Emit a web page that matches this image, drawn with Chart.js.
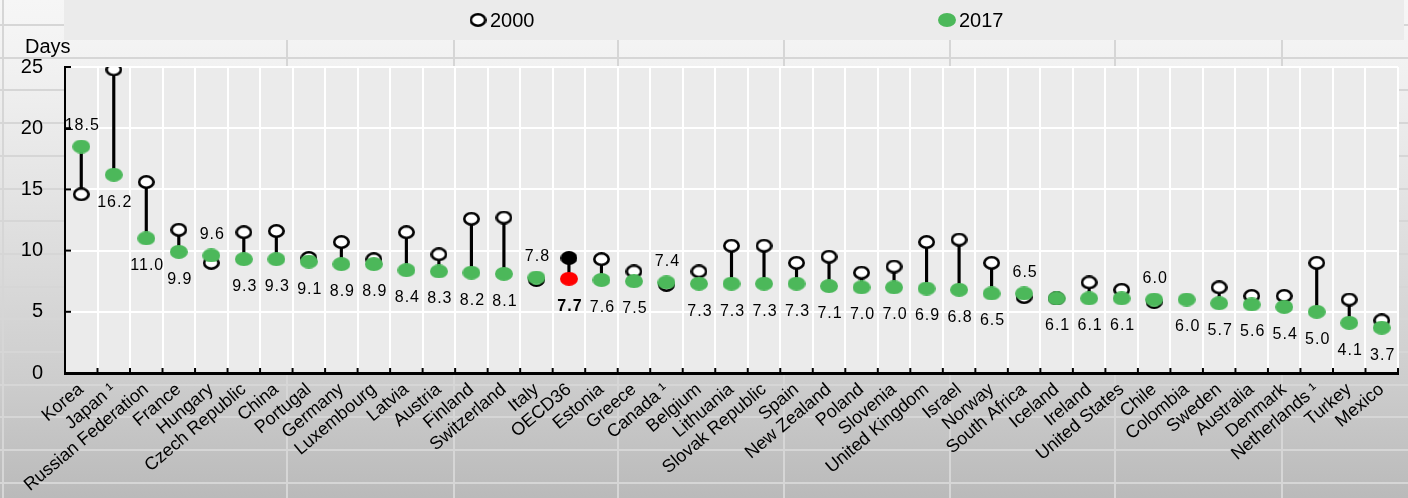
<!DOCTYPE html>
<html><head><meta charset="utf-8">
<script src="https://cdn.jsdelivr.net/npm/chart.js@4/dist/chart.umd.min.js"></script>
<style>html,body{margin:0;padding:0;background:#fff}canvas{display:block}</style>
</head><body>
<canvas id="c" width="1408" height="498" style="width:1408px;height:498px"></canvas>
<script>
const categories = ["Korea","Japan \u00b9","Russian Federation","France","Hungary","Czech Republic","China","Portugal","Germany","Luxembourg","Latvia","Austria","Finland","Switzerland","Italy","OECD36","Estonia","Greece","Canada \u00b9","Belgium","Lithuania","Slovak Republic","Spain","New Zealand","Poland","Slovenia","United Kingdom","Israel","Norway","South Africa","Iceland","Ireland","United States","Chile","Colombia","Sweden","Australia","Denmark","Netherlands \u00b9","Turkey","Mexico"];
const values2017 = [18.5,16.2,11.0,9.9,9.6,9.3,9.3,9.1,8.9,8.9,8.4,8.3,8.2,8.1,7.8,7.7,7.6,7.5,7.4,7.3,7.3,7.3,7.3,7.1,7.0,7.0,6.9,6.8,6.5,6.5,6.1,6.1,6.1,6.0,6.0,5.7,5.6,5.4,5.0,4.1,3.7];
const values2000 = [14.6,24.8,15.6,11.7,9.0,11.5,11.6,9.4,10.7,9.3,11.5,9.7,12.6,12.7,7.6,9.4,9.3,8.3,7.2,8.3,10.4,10.4,9.0,9.5,8.2,8.7,10.7,10.9,9.0,6.2,6.1,7.4,6.8,5.8,null,7.0,6.3,6.3,9.0,6.0,4.3];
const yTicks = [0,5,10,15,20,25];
const seriesNames = ["2000","2017"];
const highlight = "OECD36";
const yTitle = "Days";

const FONT = '"Liberation Sans", Arial, sans-serif';
function ell(w,h,fill,stroke,lw){
  const c=document.createElement('canvas'); c.width=w; c.height=h;
  const x=c.getContext('2d'); x.beginPath();
  const l=lw||0;
  x.ellipse(w/2,h/2,w/2-l/2,h/2-l/2,0,0,Math.PI*2);
  x.fillStyle=fill; x.fill();
  if(l){x.lineWidth=l; x.strokeStyle=stroke; x.stroke();}
  return c;
}
const imgGreen = ell(18,14,'#4cb85a');
const imgRed = ell(18,14,'#ff0000');
const imgWhite = ell(17,14,'#ffffff','#000000',2.6);
const imgBlack = ell(17,14,'#000000','#000000',2.6);
const rangeData = categories.map((c,i)=> values2000[i]==null ? null : [Math.min(values2000[i],values2017[i]), Math.max(values2000[i],values2017[i])]);

const bgPlugin = {
  id:'bg',
  beforeDraw(chart){
    const ctx=chart.ctx, W=chart.width, H=chart.height, a=chart.chartArea;
    ctx.save();
    const g=ctx.createLinearGradient(0,0,0,H);
    g.addColorStop(0,'#f6f6f6'); g.addColorStop(0.12,'#f2f2f2'); g.addColorStop(0.4,'#e3e3e3');
    g.addColorStop(0.75,'#cecece'); g.addColorStop(1,'#bababa');
    ctx.fillStyle=g; ctx.fillRect(0,0,W,H);
    ctx.strokeStyle='#d6d6d6'; ctx.lineWidth=2;
    for(let y=25;y<H;y+=32.7){ctx.beginPath();ctx.moveTo(0,Math.round(y));ctx.lineTo(W,Math.round(y));ctx.stroke();}
    [3,287,454,618,784,950,1115,1282].forEach(x=>{ctx.beginPath();ctx.moveTo(x,0);ctx.lineTo(x,H);ctx.stroke();});
    ctx.fillStyle='#ebebeb'; ctx.fillRect(a.left-1,0,W-a.left-3,40);
    ctx.fillStyle='#ebebeb'; ctx.fillRect(a.left,a.top,a.right-a.left,a.bottom-a.top);
    ctx.restore();
  },
  afterDatasetsDraw(chart){
    const ctx=chart.ctx;
    const meta=chart.getDatasetMeta(0);
    ctx.save();
    ctx.textAlign='center'; ctx.textBaseline='middle'; ctx.fillStyle='#000';
    try{ctx.letterSpacing='1px';}catch(e){}
    meta.data.forEach((pt,i)=>{
      const v=values2017[i]; const o=values2000[i];
      const above = o!=null && o<v;
      ctx.font=(categories[i]===highlight?'bold ':'')+'16px '+FONT;
      ctx.fillText(v.toFixed(1), pt.x+1, pt.y+(above?-21:27.5));
    });
    ctx.restore();
  },
  afterDraw(chart){
    const ctx=chart.ctx, a=chart.chartArea, xs=chart.scales.x, ys=chart.scales.y;
    ctx.save();
    ctx.strokeStyle='#000'; ctx.lineWidth=2;
    const n=categories.length;
    for(let i=1;i<=n;i++){
      const x = i<n ? (xs.getPixelForValue(i-1)+xs.getPixelForValue(i))/2 : a.right;
      ctx.beginPath(); ctx.moveTo(x,a.bottom); ctx.lineTo(x,a.bottom-5); ctx.stroke();
    }
    yTicks.forEach(v=>{const y=ys.getPixelForValue(v); ctx.beginPath(); ctx.moveTo(a.left,y); ctx.lineTo(a.left+6,y); ctx.stroke();});
    ctx.fillStyle='#000'; ctx.textBaseline='middle'; ctx.textAlign='left';
    ctx.font='20px '+FONT;
    ctx.drawImage(imgWhite,478-8.5,20-7);
    ctx.fillText(seriesNames[0],490,21);
    ctx.drawImage(imgGreen,947-9,20-7);
    ctx.fillText(seriesNames[1],959,21);
    ctx.font='20px '+FONT;
    ctx.fillText(yTitle,25,47);
    ctx.restore();
  }
};

new Chart(document.getElementById('c'),{
  type:'bar',
  data:{labels:categories,datasets:[
    {type:'line',label:seriesNames[1],data:values2017,showLine:false,order:1,
      pointStyle:(c)=>categories[c.dataIndex]===highlight?imgRed:imgGreen,pointRadius:9},
    {type:'line',label:seriesNames[0],data:values2000,showLine:false,order:2,
      pointStyle:(c)=>categories[c.dataIndex]===highlight?imgBlack:imgWhite,pointRadius:9},
    {type:'bar',label:'range',data:rangeData,backgroundColor:'#000',barThickness:2.5,order:3}
  ]},
  options:{
    responsive:false, animation:false, events:[], devicePixelRatio:1,
    layout:{padding:{top:67,right:8,left:0,bottom:0}},
    plugins:{legend:{display:false},tooltip:{enabled:false}},
    scales:{
      x:{grid:{color:'#ffffff',lineWidth:2,offset:true,drawTicks:false},
        border:{color:'#000',width:3},
        ticks:{autoSkip:false,minRotation:40,maxRotation:40,color:'#000',padding:6,font:{size:18,family:FONT}},
        afterFit(s){s.height=125;}},
      y:{min:0,max:25,
        afterBuildTicks(s){s.ticks=yTicks.map(v=>({value:v}));},
        grid:{color:'#ffffff',lineWidth:2,drawTicks:false},
        border:{color:'#000',width:2},
        ticks:{color:'#000',padding:22,font:{size:20,family:FONT}},
        afterFit(s){s.width=65;}}
    }
  },
  plugins:[bgPlugin]
});
</script>
</body></html>
